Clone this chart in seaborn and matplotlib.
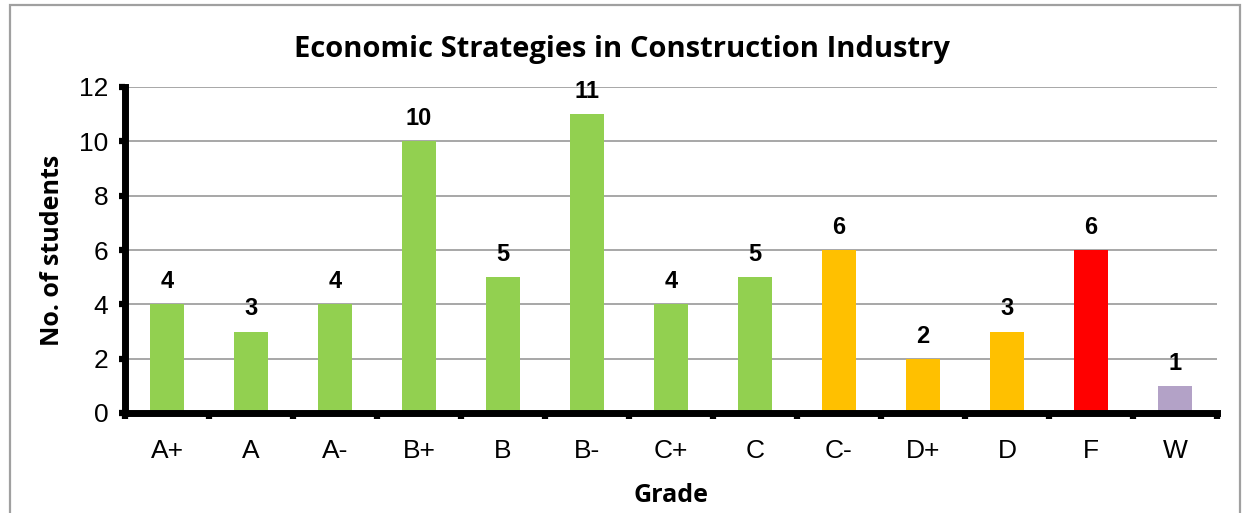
# Grade distribution bar chart - Economic Strategies in Construction Industry
import matplotlib
matplotlib.use("Agg")
import matplotlib.pyplot as plt
import seaborn as sns
import pandas as pd
from matplotlib.patches import Rectangle

# ---- data ----
grades = ["A+", "A", "A-", "B+", "B", "B-", "C+", "C", "C-", "D+", "D", "F", "W"]
students = [4, 3, 4, 10, 5, 11, 4, 5, 6, 2, 3, 6, 1]
bar_colors = ["#92D050"] * 8 + ["#FFC000"] * 3 + ["#FF0000", "#B3A2C7"]
y_ticks = [0, 2, 4, 6, 8, 10, 12]

TITLE = "Economic Strategies in Construction Industry"
X_LABEL = "Grade"
Y_LABEL = "No. of students"

sns.set_style("white")
plt.rcParams.update({
    "font.family": ["Liberation Sans", "DejaVu Sans"],
    "text.color": "black",
    "axes.labelcolor": "black",
    "xtick.color": "black",
    "ytick.color": "black",
})
label_font = ["Open Sans", "DejaVu Sans"]

df = pd.DataFrame({"grade": grades, "students": students})

fig = plt.figure(figsize=(12.43, 5.13), dpi=100)
ax = fig.add_axes([125 / 1243, 1 - 413 / 513, (1217 - 125) / 1243, (413 - 87) / 513])

sns.barplot(data=df, x="grade", y="students", hue="grade",
            palette=bar_colors, width=0.4, legend=False,
            saturation=1, linewidth=0, ax=ax)

# value labels above each bar
for cont in ax.containers:
    ax.bar_label(cont, padding=8, fontsize=17, fontweight="bold", color="black")

ax.set_ylim(0, 12)
ax.set_xlim(-0.5, len(grades) - 0.5)
ax.set_yticks(y_ticks)
ax.tick_params(axis="y", left=True, labelsize=19, length=4, width=4.5,
               direction="out", color="black", pad=8)
# x ticks sit between the categories
ax.set_xticks(range(len(grades)))
ax.set_xticks([i - 0.5 for i in range(len(grades) + 1)], minor=True)
ax.tick_params(axis="x", which="major", bottom=False, labelsize=19, length=0, pad=19)
ax.tick_params(axis="x", which="minor", bottom=True, length=4, width=4.5,
               direction="out", color="black")

ax.yaxis.grid(True, color="#A0A0A0", linewidth=1.3)
ax.set_axisbelow(True)

for side in ["top", "right"]:
    ax.spines[side].set_visible(False)
for side in ["left", "bottom"]:
    ax.spines[side].set_linewidth(5)
    ax.spines[side].set_color("black")
    ax.spines[side].set_capstyle("projecting")

ax.set_xlabel(X_LABEL, fontsize=18, fontweight="bold", family=label_font, labelpad=14)
ax.set_ylabel(Y_LABEL, fontsize=18, fontweight="bold", family=label_font, labelpad=10)

fig.text(0.5, 1 - 49 / 513, TITLE, ha="center", va="center",
         fontsize=21, fontweight="bold", family=label_font)

# outer chart-area border
fig.patches.append(Rectangle((10 / 1243, -0.05), (1240 - 10) / 1243, 1.05 - 5 / 513,
                             transform=fig.transFigure, fill=False,
                             edgecolor="#A0A0A0", linewidth=1.6))

fig.savefig("out.png", dpi=100)
